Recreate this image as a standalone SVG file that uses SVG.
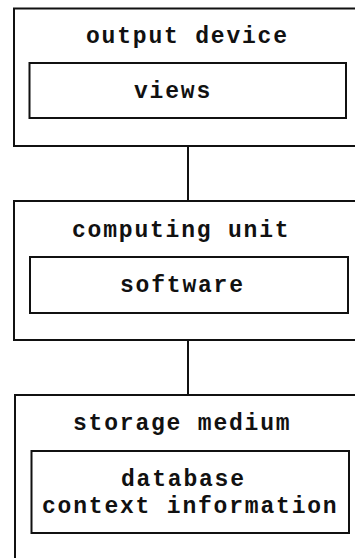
<svg xmlns="http://www.w3.org/2000/svg" width="355" height="558" viewBox="0 0 355 558">
  <style>
    .box { fill: none; stroke: #111; stroke-width: 2; }
    .wire { fill: none; stroke: #111; stroke-width: 2; }
    .lbl { font-family: "Liberation Mono", "Courier New", monospace; font-size: 23px; letter-spacing: 1.8px; font-weight: bold; fill: #111; }
  </style>
  <rect width="355" height="558" fill="#fff"/>

  <!-- connectors between the stacked units -->
  <g id="connectors">
    <line class="wire" x1="188" y1="146" x2="188" y2="201"/>
    <line class="wire" x1="188" y1="340" x2="188" y2="395"/>
  </g>

  <g id="output-device">
    <rect class="box" x="14" y="8.5" width="360" height="137.5"/>
    <text class="lbl" x="86" y="43">output device</text>
    <g id="views">
      <rect class="box" x="29.5" y="63" width="316.5" height="55"/>
      <text class="lbl" x="134" y="98">views</text>
    </g>
  </g>

  <g id="computing-unit">
    <rect class="box" x="14" y="201" width="360" height="139"/>
    <text class="lbl" x="72" y="237">computing unit</text>
    <g id="software">
      <rect class="box" x="30" y="257" width="318" height="56"/>
      <text class="lbl" x="120" y="292">software</text>
    </g>
  </g>

  <g id="storage-medium">
    <rect class="box" x="15" y="395" width="360" height="200"/>
    <text class="lbl" x="73" y="430">storage medium</text>
    <g id="database">
      <rect class="box" x="31.5" y="451" width="317.5" height="82"/>
      <text class="lbl" x="121" y="486">database</text>
      <text class="lbl" x="42" y="513">context information</text>
    </g>
  </g>
</svg>
